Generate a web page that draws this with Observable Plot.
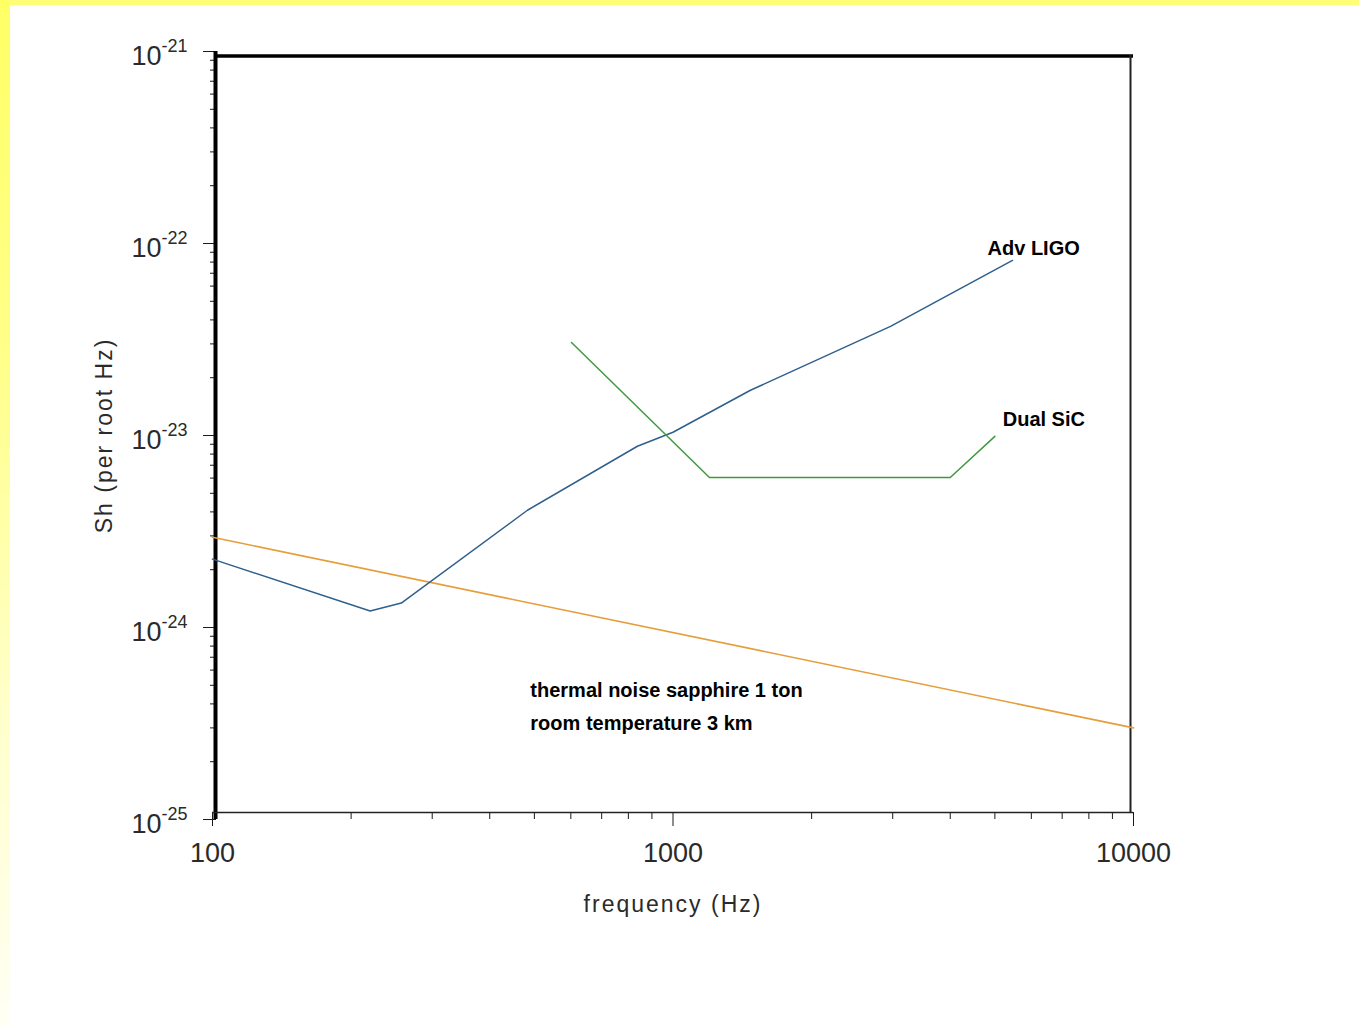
<!DOCTYPE html>
<html><head><meta charset="utf-8">
<script src="https://cdn.jsdelivr.net/npm/d3@7"></script>
<script src="https://cdn.jsdelivr.net/npm/@observablehq/plot@0.6"></script>
<style>
html,body{margin:0;padding:0;background:#fff;}
#wrap{position:relative;width:1359px;height:1025px;overflow:hidden;background:#fff;}
#chart{position:absolute;left:0;top:0;}
#topband{position:absolute;left:0;top:0;width:1359px;height:5px;background:#ffff77;}
#leftband{position:absolute;left:0;top:0;width:10px;height:1025px;background:linear-gradient(#ffff66 0%, #ffff8a 35%, #ffffcc 70%, #fffff4 100%);}
</style></head>
<body>
<div id="wrap"><div id="chart"></div><div id="topband"></div><div id="leftband"></div></div>
<script>
// ---- data ----
const ligoFreq = [100, 220, 257, 483, 837, 1000, 1473, 2967, 5460];
const ligoSh   = [2.27e-24, 1.22e-24, 1.34e-24, 4.08e-24, 8.79e-24, 1.04e-23, 1.72e-23, 3.70e-23, 8.16e-23];

const sicFreq = [602, 1200, 4000, 5000];
const sicSh   = [3.05e-23, 6.04e-24, 6.04e-24, 9.9e-24];

const thermalFreq = [100, 10000];
const thermalSh   = [2.95e-24, 3.0e-25];

const labelText = ["Adv LIGO", "Dual SiC", "thermal noise sapphire 1 ton\nroom temperature 3 km"];
const labelFreq = [4820, 5200, 490];
const labelSh   = [1.04e-22, 1.34e-23, 5.14e-25];

const xDecades = [100, 1000, 10000];
const xTickLabels = ["100", "1000", "10000"];
const yDecades = [1e-25, 1e-24, 1e-23, 1e-22, 1e-21];
const yTickExponents = ["-25", "-24", "-23", "-22", "-21"];

const xTitle = "frequency (Hz)";
const yTitle = "Sh (per root Hz)";

// ---- tables ----
const ligo = ligoFreq.map((f, i) => ({f, sh: ligoSh[i]}));
const sic = sicFreq.map((f, i) => ({f, sh: sicSh[i]}));
const thermal = thermalFreq.map((f, i) => ({f, sh: thermalSh[i]}));
const labels = labelText.map((t, i) => ({t, f: labelFreq[i], sh: labelSh[i]}));
const xMinor = xDecades.slice(0, -1).flatMap(d => d3.range(2, 10).map(k => k * d));
const yMinor = yDecades.slice(0, -1).flatMap(d => d3.range(2, 10).map(k => k * d));
const yLabels = yDecades.map((v, i) => ({v, t: "10^" + yTickExponents[i]}));
const xLabels = xDecades.map((v, i) => ({v, t: xTickLabels[i]}));

const ink = "#1a1a1a";
const font = "'Liberation Sans', Arial, Helvetica, sans-serif";

const chart = Plot.plot({
  width: 1359, height: 1025,
  marginLeft: 212, marginRight: 226, marginTop: 51, marginBottom: 206,
  style: {background: "transparent", fontFamily: font, color: ink},
  x: {type: "log", domain: [100, 10000]},
  y: {type: "log", domain: [1e-25, 1e-21]},
  marks: [
    // axis ticks
    Plot.axisY({ticks: yMinor, tickSize: 6, tickFormat: () => "", dx: 4, label: null, stroke: ink}),
    Plot.axisY({ticks: yDecades, tickSize: 13, tickFormat: () => "", dx: 4, label: null, stroke: ink}),
    Plot.axisX({ticks: xMinor, tickSize: 7, tickFormat: () => "", dy: -7, label: null, stroke: ink}),
    Plot.axisX({ticks: xDecades, tickSize: 14, tickFormat: () => "", dy: -7, label: null, stroke: ink}),
    // frame
    Plot.ruleX([xDecades[0]], {dx: 3, stroke: "#000", strokeWidth: 4}),
    Plot.ruleY([yDecades[yDecades.length - 1]], {dy: 4.5, insetLeft: 3, stroke: "#000", strokeWidth: 3.5}),
    Plot.ruleX([xDecades[xDecades.length - 1]], {dx: -3, insetTop: 4, insetBottom: 7, stroke: "#222", strokeWidth: 2}),
    Plot.ruleY([yDecades[0]], {dy: -7, stroke: "#222", strokeWidth: 1.5}),
    // tick labels
    Plot.text(xLabels, {x: "v", text: "t", frameAnchor: "bottom", dy: 34, lineAnchor: "middle", fontSize: 27, fill: "#2a2a2a"}),
    Plot.text(yLabels, {y: "v", text: "t", frameAnchor: "left", textAnchor: "end", dx: -25, dy: 5, lineAnchor: "middle", fontSize: 27, fill: "#2a2a2a"}),
    // titles
    Plot.text([xTitle], {frameAnchor: "bottom", textAnchor: "middle", dy: 92, lineAnchor: "bottom", fontSize: 23, fill: "#2a2a2a"}),
    Plot.text([yTitle], {frameAnchor: "left", textAnchor: "middle", dx: -108, rotate: -90, lineAnchor: "middle", fontSize: 23, fill: "#2a2a2a"}),
    // series
    Plot.line(thermal, {x: "f", y: "sh", stroke: "#e69d3a", strokeWidth: 1.6}),
    Plot.line(ligo, {x: "f", y: "sh", stroke: "#2f5f8c", strokeWidth: 1.5}),
    Plot.line(sic, {x: "f", y: "sh", stroke: "#3f9a3f", strokeWidth: 1.5}),
    // annotations
    Plot.text(labels, {x: "f", y: "sh", text: "t", textAnchor: "start", lineAnchor: "top", dy: -9, lineHeight: 1.65, fontSize: 20, fontWeight: "bold", fill: "#000"})
  ]
});

document.getElementById("chart").appendChild(chart);

// superscript exponents and letter spacing for titles
d3.select(chart).selectAll("text").each(function() {
  const s = this.textContent;
  if (/^10\^/.test(s)) {
    const exp = s.slice(3);
    this.textContent = "10";
    d3.select(this).append("tspan").attr("font-size", 18).attr("dy", -13).text(exp);
  } else if (s === xTitle || s === yTitle) {
    this.setAttribute("letter-spacing", "2px");
  }
});
</script>
</body></html>
